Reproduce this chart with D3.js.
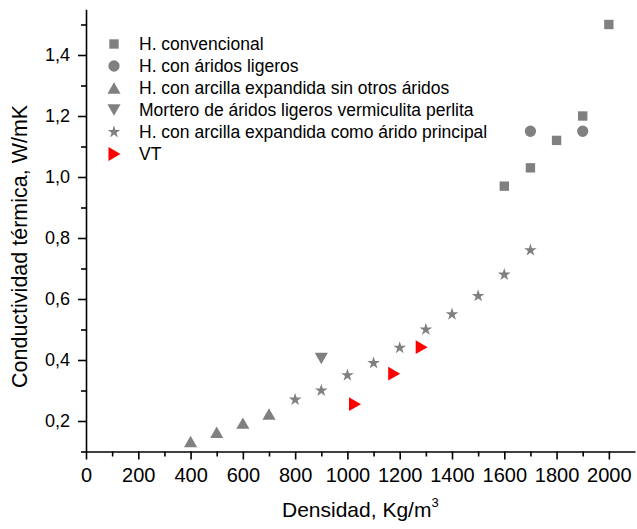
<!DOCTYPE html>
<html>
<head>
<meta charset="utf-8">
<script src="https://cdn.jsdelivr.net/npm/d3@7"></script>
<style>
  html, body { margin: 0; padding: 0; background: #fff; }
  svg { display: block; font-family: "Liberation Sans", Arial, sans-serif; }
</style>
</head>
<body>
<svg id="chart" width="637" height="529"></svg>
<script>
// Densidad (kg/m3) vs conductividad térmica (W/mK), one array per series
const convencional = [[1600, 0.97], [1700, 1.03], [1800, 1.12], [1900, 1.20], [2000, 1.50]];
const aridosLigeros = [[1700, 1.15], [1900, 1.15]];
const arcillaSinOtros = [[400, 0.133], [500, 0.163], [600, 0.193], [700, 0.223]];
const mortero = [[900, 0.405]];
const arcillaPrincipal = [[800, 0.27], [900, 0.30], [1000, 0.35], [1100, 0.39], [1200, 0.44],
                          [1300, 0.50], [1400, 0.55], [1500, 0.61], [1600, 0.68], [1700, 0.76]];
const vt = [[1027, 0.255], [1177, 0.355], [1282, 0.442]];

const seriesNames = [
    "H. convencional",
    "H. con áridos ligeros",
    "H. con arcilla expandida sin otros áridos",
    "Mortero de áridos ligeros vermiculita perlita",
    "H. con arcilla expandida como árido principal",
    "VT"
];

const xTicks = [0, 200, 400, 600, 800, 1000, 1200, 1400, 1600, 1800, 2000];
const yTicks = [0.2, 0.4, 0.6, 0.8, 1.0, 1.2, 1.4];

const gray = "#808080";
const red = "#ff0000";

// triangles centred on their bounding box, like the plotting package does
function tri(dir) {
    return {
        draw(ctx, size) {
            const w = Math.sqrt(size * 1.15), h = w * 0.87;
            if (dir === "up") {
                ctx.moveTo(0, -h / 2); ctx.lineTo(w / 2, h / 2); ctx.lineTo(-w / 2, h / 2);
            } else if (dir === "down") {
                ctx.moveTo(0, h / 2); ctx.lineTo(w / 2, -h / 2); ctx.lineTo(-w / 2, -h / 2);
            } else {
                ctx.moveTo(h / 2 + 0.5, 0); ctx.lineTo(-h / 2 + 0.5, w / 2); ctx.lineTo(-h / 2 + 0.5, -w / 2);
            }
            ctx.closePath();
        }
    };
}

const series = [
    { data: convencional, type: d3.symbolSquare, size: 88, color: gray },
    { data: aridosLigeros, type: d3.symbolCircle, size: 100, color: gray },
    { data: arcillaSinOtros, type: tri("up"), size: 150, color: gray },
    { data: mortero, type: tri("down"), size: 150, color: gray },
    { data: arcillaPrincipal, type: d3.symbolStar, size: 50, color: gray },
    { data: vt, type: tri("right"), size: 165, color: red }
];

const svg = d3.select("#chart");

const x = d3.scaleLinear().domain([0, 2100]).range([86, 635]);
const y = d3.scaleLinear().domain([0.1, 1.55]).range([451.5, 9.25]);

const es = d3.formatLocale({ decimal: ",", thousands: ".", grouping: [3], currency: ["", " €"] });
const fmtY = es.format(".1f");

// minor ticks first so the major ones sit on top
svg.append("g")
    .attr("transform", "translate(0,451.5)")
    .call(d3.axisBottom(x).tickValues(d3.range(100, 2100, 200)).tickSize(5).tickFormat(""))
    .call(g => g.select(".domain").remove());
svg.append("g")
    .attr("transform", "translate(86,0)")
    .call(d3.axisLeft(y).tickValues([0.1, 0.3, 0.5, 0.7, 0.9, 1.1, 1.3, 1.5]).tickSize(5).tickFormat(""))
    .call(g => g.select(".domain").remove());

const xAxis = svg.append("g")
    .attr("transform", "translate(0,451.5)")
    .call(d3.axisBottom(x).tickValues(xTicks).tickSize(8).tickPadding(8).tickSizeOuter(0).tickFormat(d3.format("d")));
xAxis.selectAll("text").attr("font-size", 20).attr("fill", "#000").attr("font-family", null);

const yAxis = svg.append("g")
    .attr("transform", "translate(86,0)")
    .call(d3.axisLeft(y).tickValues(yTicks).tickSize(8).tickPadding(8).tickSizeOuter(0).tickFormat(fmtY));
yAxis.selectAll("text").attr("font-size", 18).attr("fill", "#000").attr("font-family", null);

svg.selectAll(".domain, .tick line").attr("stroke", "#000").attr("stroke-width", 1.6);

// markers
series.forEach(s => {
    svg.append("g").selectAll("path")
        .data(s.data)
        .join("path")
        .attr("transform", d => `translate(${x(d[0])},${y(d[1])})`)
        .attr("d", d3.symbol().type(s.type).size(s.size))
        .attr("fill", s.color);
});

// legend
const legend = svg.append("g").attr("transform", "translate(114,44)");
const item = legend.selectAll("g")
    .data(series)
    .join("g")
    .attr("transform", (d, i) => `translate(0,${i * 22})`);
item.append("path")
    .attr("d", d => d3.symbol().type(d.type).size(d.size)())
    .attr("fill", d => d.color);
item.append("text")
    .attr("x", 25)
    .attr("dy", "0.35em")
    .attr("font-size", 17.5)
    .text((d, i) => seriesNames[i]);

// axis titles
const xTitle = svg.append("text")
    .attr("x", 282)
    .attr("y", 517)
    .attr("font-size", 21);
xTitle.append("tspan").text("Densidad, Kg/m");
xTitle.append("tspan").attr("font-size", 13).attr("dy", -10).text("3");

svg.append("text")
    .attr("transform", "translate(27,388) rotate(-90)")
    .attr("font-size", 21.5)
    .text("Conductividad térmica, W/mK");
</script>
</body>
</html>
